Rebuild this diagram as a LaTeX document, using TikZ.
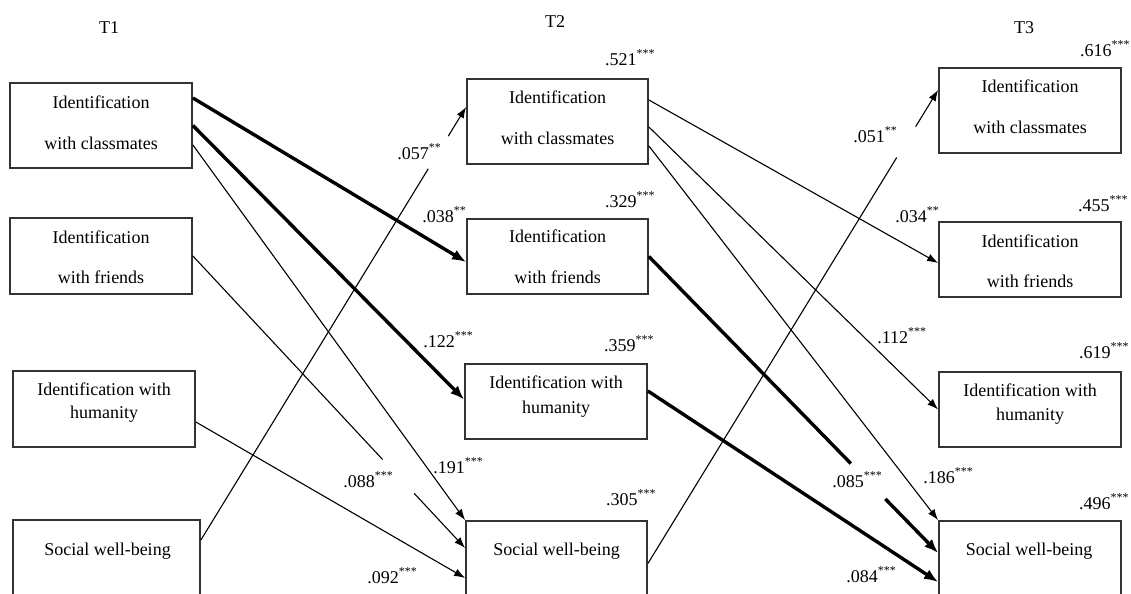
\documentclass[tikz,border=0pt]{standalone}
\usepackage{fontspec}
\setmainfont{Liberation Serif}
\usetikzlibrary{arrows.meta,positioning}

\tikzset{
  box/.style={draw=black!80,line width=0.9pt,minimum width=91pt,minimum height=38pt,inner sep=0pt},
  tall/.style={minimum height=42.5pt},
  txt/.style={inner sep=0pt,anchor=base},
  coef/.style={inner sep=0pt,anchor=base west},
  rsq/.style={inner sep=0pt},
  path thin/.style={line width=0.55pt,-{Latex[length=5.5pt,width=4pt]}},
  path thick/.style={line width=1.7pt,-{Latex[length=7pt,width=5.5pt]}},
  gap/.style={fill=white,inner sep=0pt,sloped,minimum height=3pt},
}

\begin{document}
\begin{tikzpicture}[x=0.5pt,y=-0.5pt,font=\fontsize{9}{11}\selectfont]
  \useasboundingbox (0,0) rectangle (1131,594);
  \clip (0,0) rectangle (1131,594);

  %waves
  \node[txt] (t1) at (109,33) {T1};
  \node[txt] (t2) at (555,27) {T2};
  \node[txt] (t3) at (1024,33) {T3};

  %T1
  \node[box,tall] (cls1) at (101,125.5) {};
  \node[txt] (cls1a) at (101,108) {Identification};
  \node[txt] (cls1b) at (101,149) {with classmates};
  \node[box] (frd1) at (101,256) {};
  \node[txt] (frd1a) at (101,243) {Identification};
  \node[txt] (frd1b) at (101,283) {with friends};
  \node[box] (hum1) at (104,409) {};
  \node[txt] (hum1a) at (104,395) {Identification with};
  \node[txt] (hum1b) at (104,418) {humanity};
  \node[box,tall,minimum width=93.5pt] (swb1) at (106.5,562.5) {};
  \node[txt] (swb1a) at (107.5,555) {Social well-being};

  %T2
  \node[box,tall,minimum width=90.5pt] (cls2) at (557.5,121.5) {};
  \node[txt] (cls2a) at (557.5,103) {Identification};
  \node[txt] (cls2b) at (557.5,144) {with classmates};
  \node[box,minimum width=90.5pt,minimum height=37.5pt] (frd2) at (557.5,256.5) {};
  \node[txt] (frd2a) at (557.5,242) {Identification};
  \node[txt] (frd2b) at (557.5,283) {with friends};
  \node[box,minimum height=37.5pt] (hum2) at (556,401.5) {};
  \node[txt] (hum2a) at (556,388) {Identification with};
  \node[txt] (hum2b) at (556,413) {humanity};
  \node[box,tall,minimum width=90.5pt] (swb2) at (556.5,563.5) {};
  \node[txt] (swb2a) at (556.5,555) {Social well-being};

  %T3
  \node[box,tall] (cls3) at (1030,110.5) {};
  \node[txt] (cls3a) at (1030,92) {Identification};
  \node[txt] (cls3b) at (1030,133) {with classmates};
  \node[box,minimum height=37.5pt] (frd3) at (1030,259.5) {};
  \node[txt] (frd3a) at (1030,247) {Identification};
  \node[txt] (frd3b) at (1030,287) {with friends};
  \node[box,minimum height=37.5pt] (hum3) at (1030,409.5) {};
  \node[txt] (hum3a) at (1030,396) {Identification with};
  \node[txt] (hum3b) at (1030,420) {humanity};
  \node[box,tall] (swb3) at (1030,563.5) {};
  \node[txt] (swb3a) at (1029,555) {Social well-being};

  %explained variance
  \node[rsq,above left=6pt and -3.5pt of cls2.north east] (r2cls) {.521\textsuperscript{***}};
  \node[rsq,above left=5pt and -3.5pt of frd2.north east] (r2frd) {.329\textsuperscript{***}};
  \node[rsq,above left=5.5pt and -3.5pt of hum2.north east] (r2hum) {.359\textsuperscript{***}};
  \node[rsq,above left=7pt and -4.5pt of swb2.north east] (r2swb) {.305\textsuperscript{***}};
  \node[rsq,above left=5pt and -4.5pt of cls3.north east] (r3cls) {.616\textsuperscript{***}};
  \node[rsq,above left=4.5pt and -3.5pt of frd3.north east] (r3frd) {.455\textsuperscript{***}};
  \node[rsq,above left=6pt and -4pt of hum3.north east] (r3hum) {.619\textsuperscript{***}};
  \node[rsq,above left=5pt and -4pt of swb3.north east] (r3swb) {.496\textsuperscript{***}};

  %T1 to T2
  \draw[path thick] ([yshift=13.75pt]cls1.east) -- ([yshift=-2.75pt]frd2.west);
  \draw[path thick] (cls1.east) -- ([yshift=1pt]hum2.west);
  \draw[path thin] ([yshift=-9.75pt]cls1.east) -- (swb2.north west);
  \draw[path thin] (frd1.east) -- node[gap,pos=0.755,minimum width=23pt] (g1) {} ([yshift=7.75pt]swb2.west);
  \draw[path thin] ([yshift=-6.5pt]hum1.east) -- ([yshift=-7.25pt]swb2.west);
  \draw[path thin] ([yshift=11.25pt]swb1.east) -- node[gap,pos=0.895,minimum width=19pt] (g2) {} ([yshift=7.25pt]cls2.west);

  %T2 to T3
  \draw[path thin] ([yshift=10.75pt]cls2.east) -- ([yshift=-1.75pt]frd3.west);
  \draw[path thin] ([yshift=-2.75pt]cls2.east) -- (hum3.west);
  \draw[path thin] ([yshift=-12.25pt]cls2.east) -- (swb3.north west);
  \draw[path thick] (frd2.east) -- node[gap,pos=0.758,minimum width=24.5pt] (g3) {} ([yshift=5.25pt]swb3.west);
  \draw[path thick] ([yshift=5.25pt]hum2.east) -- ([yshift=-9.25pt]swb3.west);
  \draw[path thin] (swb2.east) -- node[gap,pos=0.89,minimum width=18pt] (g4) {} ([yshift=10.25pt]cls3.west);

  %coefficients
  \node[coef] (b1) at (397,159) {.057\textsuperscript{**}};
  \node[coef] (b2) at (422,222) {.038\textsuperscript{**}};
  \node[coef] (b3) at (423,347) {.122\textsuperscript{***}};
  \node[coef] (b4) at (433,473) {.191\textsuperscript{***}};
  \node[coef] (b5) at (343,487) {.088\textsuperscript{***}};
  \node[coef] (b6) at (367,583) {.092\textsuperscript{***}};
  \node[coef] (b7) at (853,142) {.051\textsuperscript{**}};
  \node[coef] (b8) at (895,222) {.034\textsuperscript{**}};
  \node[coef] (b9) at (877,343) {.112\textsuperscript{***}};
  \node[coef] (b10) at (832,487) {.085\textsuperscript{***}};
  \node[coef] (b11) at (923,483) {.186\textsuperscript{***}};
  \node[coef] (b12) at (846,582) {.084\textsuperscript{***}};
\end{tikzpicture}
\end{document}
